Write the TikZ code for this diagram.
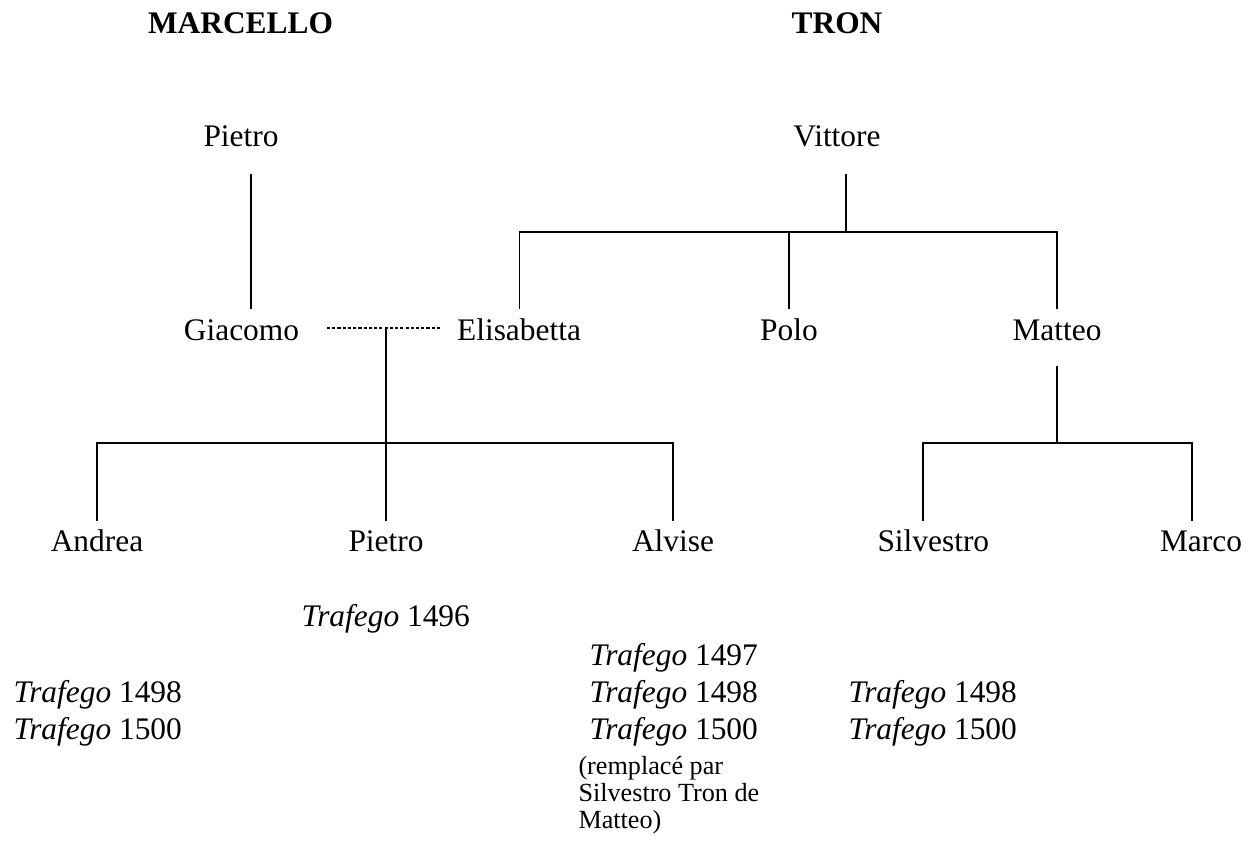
\documentclass[tikz,border=0pt]{standalone}
\usepackage{fontspec}
\setmainfont{Liberation Serif}
\begin{document}
\begin{tikzpicture}[x=0.3822pt,y=-0.3822pt,
  pname/.style={font=\fontsize{12}{13.8}\selectfont, inner sep=0pt, anchor=base},
  hdr/.style={font=\fontsize{12}{13.8}\selectfont\bfseries, inner sep=0pt, anchor=base},
  tr/.style={font=\fontsize{12}{13.8}\selectfont, inner sep=0pt, anchor=base west},
  note/.style={font=\fontsize{10}{10.3}\selectfont, inner sep=0pt, anchor=base west, align=left},
  tree/.style={line width=0.6pt, line cap=rect},
  marriage/.style={line width=1.1pt, dash pattern=on 1.2pt off 0.8pt}]
\useasboundingbox (0,0) rectangle (1258,840);
% headers
\node[hdr] (marcello) at (240.5,33) {MARCELLO};
\node[hdr] (tron) at (837,33) {TRON};
% names
\node[pname] (pietroA) at (241,146) {Pietro};
\node[pname] (vittore) at (837,146) {Vittore};
\node[pname] (giacomo) at (241.5,340) {Giacomo};
\node[pname] (elisabetta) at (519,340) {Elisabetta};
\node[pname] (polo) at (789,340) {Polo};
\node[pname] (matteo) at (1057,340) {Matteo};
\node[pname] (andrea) at (97,551) {Andrea};
\node[pname] (pietroB) at (386,551) {Pietro};
\node[pname] (alvise) at (673,551) {Alvise};
\node[pname, anchor=base west] (silvestro) at (877,551) {Silvestro};
\node[pname] (marco) at (1201,551) {Marco};
% trafego
\node[tr] (t1496) at (301,626) {\textit{Trafego} 1496};
\node[tr] (tA1498) at (13,702) {\textit{Trafego} 1498};
\node[tr] (tA1500) at (13,739) {\textit{Trafego} 1500};
\node[tr] (tB1497) at (589,665) {\textit{Trafego} 1497};
\node[tr] (tB1498) at (589,702) {\textit{Trafego} 1498};
\node[tr] (tB1500) at (589,739) {\textit{Trafego} 1500};
\node[tr] (tC1498) at (848,702) {\textit{Trafego} 1498};
\node[tr] (tC1500) at (848,739) {\textit{Trafego} 1500};
\node[note] (remp) at (578,828) {(remplacé par\\Silvestro Tron de\\Matteo)};
% connector points
\coordinate (pA) at (251,175);
\coordinate (gA) at (251,308);
\coordinate (vA) at (846,175);
\coordinate (vJ) at (846,232);
\coordinate (eJ) at (519.5,232);
\coordinate (eA) at (519.5,308);
\coordinate (poJ) at (789,232);
\coordinate (poA) at (789,308);
\coordinate (mJ) at (1057,232);
\coordinate (mA) at (1057,308);
\coordinate (mB) at (1057,367);
\coordinate (mK) at (1057,443);
\coordinate (dL) at (327,328);
\coordinate (dR) at (440,328);
\coordinate (dM) at (386,328);
\coordinate (kJ) at (386,443);
\coordinate (anJ) at (97,443);
\coordinate (anA) at (97,520);
\coordinate (piA) at (386,520);
\coordinate (alJ) at (673,443);
\coordinate (alA) at (673,520);
\coordinate (siJ) at (923,443);
\coordinate (siA) at (923,520);
\coordinate (maJ) at (1192,443);
\coordinate (maA) at (1192,520);
% Marcello
\draw[tree] (pA) -- (gA);
% Tron
\draw[tree] (vA) -- (vJ);
\draw[tree] (eA) -- (eJ) -- (mJ) -- (mA);
\draw[tree] (poJ) -- (poA);
% marriage
\draw[marriage] (dL) -- (dR);
\draw[tree] (dM) -- (piA);
\draw[tree] (anA) -- (anJ) -- (alJ) -- (alA);
% Matteo's children
\draw[tree] (mB) -- (mK);
\draw[tree] (siA) -- (siJ) -- (maJ) -- (maA);
\end{tikzpicture}
\end{document}
